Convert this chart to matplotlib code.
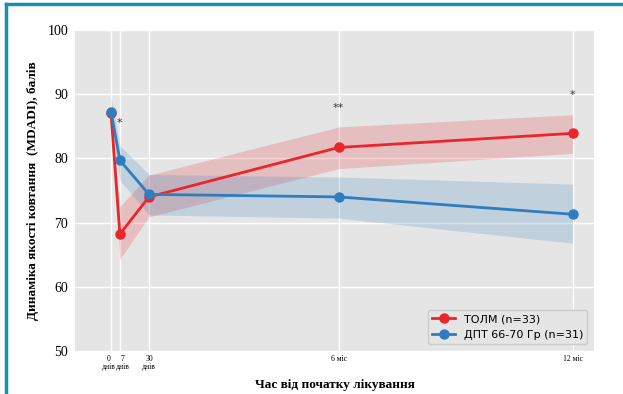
import matplotlib.pyplot as plt
from matplotlib.lines import Line2D
from matplotlib.transforms import ScaledTranslation

# days since start of treatment
days = [0, 7, 30, 180, 365]
tick_labels = ['0\nднів', '7\nднів', '30\nднів', '6 міс', '12 міс']

tolm_mean = [87.0, 68.2, 74.0, 81.7, 83.9]
tolm_low = [86.5, 64.3, 70.9, 78.4, 80.8]
tolm_high = [87.5, 72.5, 77.4, 84.9, 86.8]

dpt_mean = [87.3, 79.7, 74.4, 74.0, 71.3]
dpt_low = [85.5, 76.6, 71.2, 70.7, 66.8]
dpt_high = [89.6, 82.0, 77.5, 77.1, 76.0]

# significance marks
sig_days = [7, 180, 365]
sig_y = [85.5, 87.8, 89.9]
sig_text = ['*', '**', '*']

red = '#e8262b'
blue = '#2f7dbf'

fig = plt.figure(figsize=(6.23, 3.94), dpi=100)
ax = fig.add_axes([75 / 623, 43 / 394, 519 / 623, 321 / 394])
ax.set_facecolor('#e5e5e5')
for s in ax.spines.values():
    s.set_visible(False)

ax.fill_between(days, tolm_low, tolm_high, color=red, alpha=0.2, linewidth=0)
ax.fill_between(days, dpt_low, dpt_high, color=blue, alpha=0.2, linewidth=0)
ax.plot(days, tolm_mean, color=red, lw=2, marker='o', ms=6.5, label='ТОЛМ (n=33)')
ax.plot(days, dpt_mean, color=blue, lw=2, marker='o', ms=6.5, label='ДПТ 66-70 Гр (n=31)')

for d, y, t in zip(sig_days, sig_y, sig_text):
    ax.text(d, y, t, ha='center', va='center', fontsize=8, color='#333333')

ax.set_xlim(-28.5, 382)
ax.set_ylim(50, 100)
ax.set_xticks(days)
ax.set_xticklabels(tick_labels, family='Liberation Serif', fontsize=5.5, linespacing=0.95)
ax.set_yticks([50, 60, 70, 80, 90, 100])
ax.tick_params(axis='y', labelsize=10, length=0, pad=5)
ax.tick_params(axis='x', length=0, pad=3)
for lab in ax.get_yticklabels():
    lab.set_family('Liberation Serif')
ax.grid(True, color='white', lw=1)
ax.set_axisbelow(True)

# push the two crowded first labels apart
xlabs = ax.get_xticklabels()
for lab, dx in ((xlabs[0], -2.5), (xlabs[1], 2.5)):
    lab.set_transform(lab.get_transform() + ScaledTranslation(dx / 100, 0, fig.dpi_scale_trans))

ax.set_xlabel('Час від початку лікування', family='Liberation Serif',
              fontweight='bold', fontsize=9.5, labelpad=6)
ax.set_ylabel('Динаміка якості ковтання  (MDADI), балів', family='Liberation Serif',
              fontweight='bold', fontsize=9.5, labelpad=6)

leg = ax.legend(loc='lower right', fontsize=8, frameon=True, facecolor='#e5e5e5',
                edgecolor='#cccccc', framealpha=1, borderaxespad=0.6)

# teal frame along the top and left edges
frame = '#1a90a8'
fig.add_artist(Line2D([6 / 623, 1], [1 - 4 / 394, 1 - 4 / 394], color=frame, lw=2.5,
                      transform=fig.transFigure))
fig.add_artist(Line2D([6 / 623, 6 / 623], [0, 1 - 4 / 394], color=frame, lw=2.5,
                      transform=fig.transFigure))

fig.savefig('out.png', dpi=100)
